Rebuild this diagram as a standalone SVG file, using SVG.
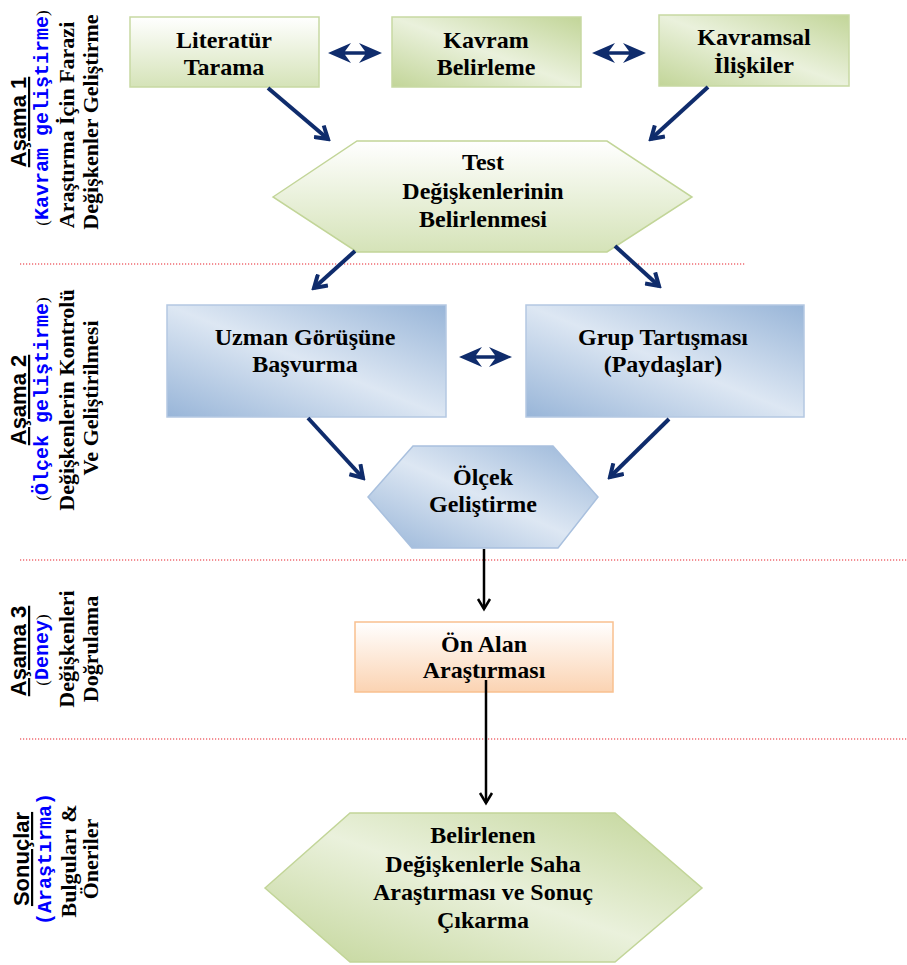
<svg xmlns="http://www.w3.org/2000/svg" width="907" height="965" viewBox="0 0 907 965">
<style>
.t{font-family:"Liberation Serif","Times New Roman",serif;font-weight:bold;font-size:24px;fill:#000;text-anchor:middle}
.lh{font-family:"Liberation Sans",Arial,sans-serif;font-weight:bold;font-size:22px;fill:#000;text-anchor:middle;text-decoration:underline}
.lm{font-family:"Liberation Mono","Courier New",monospace;font-weight:bold;font-size:20px;fill:#0000ff}
.lp{font-family:"Liberation Serif","Times New Roman",serif;font-size:17px;fill:#000}
.ls{font-family:"Liberation Serif","Times New Roman",serif;font-weight:bold;font-size:22px;fill:#000;text-anchor:middle}
.sep{stroke:#e8202a;stroke-width:1.2;stroke-dasharray:1.2 1.8;fill:none}
.nav{stroke:#0f2c6c;stroke-width:4;fill:none}
.blk{stroke:#000;stroke-width:2.5;fill:none}
.dbl{fill:#0f2c6c}
</style>
<defs>
<linearGradient id="gv" x1="0" y1="0" x2="0" y2="1"><stop offset="0" stop-color="#ffffff"/><stop offset="1" stop-color="#d5e3b8"/></linearGradient>
<linearGradient id="gd" x1="0" y1="1" x2="1" y2="0"><stop offset="0" stop-color="#c2d598"/><stop offset="0.5" stop-color="#eaf1dc"/><stop offset="1" stop-color="#c2d598"/></linearGradient>
<linearGradient id="bd" x1="0" y1="1" x2="1" y2="0"><stop offset="0" stop-color="#98b5d8"/><stop offset="0.5" stop-color="#dde7f3"/><stop offset="1" stop-color="#98b5d8"/></linearGradient>
<linearGradient id="ov" x1="0" y1="0" x2="0" y2="1"><stop offset="0" stop-color="#ffffff"/><stop offset="1" stop-color="#fbd3b2"/></linearGradient>
<marker id="an" markerUnits="userSpaceOnUse" viewBox="0 0 18 18" markerWidth="18" markerHeight="18" refX="15" refY="9" orient="auto">
<path d="M3,1.5 L15,9 L3,16.5" fill="none" stroke="#0f2c6c" stroke-width="4"/>
</marker>
<marker id="ab" markerUnits="userSpaceOnUse" viewBox="0 0 16 16" markerWidth="16" markerHeight="16" refX="13" refY="8" orient="auto">
<path d="M3,2 L13,8 L3,14" fill="none" stroke="#000" stroke-width="2.5"/>
</marker>
</defs>

<g id="separators">
<line class="sep" x1="20" y1="264" x2="745" y2="264"/>
<line class="sep" x1="20" y1="560" x2="907" y2="560"/>
<line class="sep" x1="20" y1="739" x2="907" y2="739"/>
</g>

<g id="label-asama1">
<text class="lh" transform="translate(26,122) rotate(-90)">Aşama 1</text>
<text transform="translate(48,118) rotate(-90)" text-anchor="middle"><tspan class="lp">(</tspan><tspan class="lm">Kavram geliştirme</tspan><tspan class="lp">)</tspan></text>
<text class="ls" transform="translate(74,125) rotate(-90)">Araştırma İçin Farazi</text>
<text class="ls" transform="translate(98,122) rotate(-90)">Değişkenler Geliştirme</text>
</g>

<g id="label-asama2">
<text class="lh" transform="translate(26,400) rotate(-90)">Aşama 2</text>
<text transform="translate(48,399) rotate(-90)" text-anchor="middle"><tspan class="lp">(</tspan><tspan class="lm">Ölçek geliştirme</tspan><tspan class="lp">)</tspan></text>
<text class="ls" transform="translate(74,400) rotate(-90)">Değişkenlerin Kontrolü</text>
<text class="ls" transform="translate(98,398) rotate(-90)">Ve Geliştirilmesi</text>
</g>

<g id="label-asama3">
<text class="lh" transform="translate(26,651) rotate(-90)">Aşama 3</text>
<text transform="translate(48,650) rotate(-90)" text-anchor="middle"><tspan class="lp">(</tspan><tspan class="lm">Deney</tspan><tspan class="lp">)</tspan></text>
<text class="ls" transform="translate(74,649) rotate(-90)">Değişkenleri</text>
<text class="ls" transform="translate(98,649) rotate(-90)">Doğrulama</text>
</g>

<g id="label-sonuclar">
<text class="lh" transform="translate(29,859) rotate(-90)">Sonuçlar</text>
<text class="lm" transform="translate(51,859) rotate(-90)" text-anchor="middle">(Araştırma)</text>
<text class="ls" transform="translate(76,861) rotate(-90)">Bulguları &amp;</text>
<text class="ls" transform="translate(98,859) rotate(-90)">Öneriler</text>
</g>

<g id="n-literatur">
<rect x="130" y="17" width="189" height="70" fill="url(#gv)" stroke="#c7d9a3" stroke-width="1.5"/>
<text class="t" x="224" y="48">Literatür</text>
<text class="t" x="224" y="75">Tarama</text>
</g>
<g id="n-kavram">
<rect x="392" y="17" width="189" height="70" fill="url(#gd)" stroke="#c7d9a3" stroke-width="1.5"/>
<text class="t" x="486" y="48">Kavram</text>
<text class="t" x="486" y="75">Belirleme</text>
</g>
<g id="n-kavramsal">
<rect x="659" y="15" width="190" height="71" fill="url(#gd)" stroke="#c7d9a3" stroke-width="1.5"/>
<text class="t" x="754" y="45">Kavramsal</text>
<text class="t" x="754" y="73">İlişkiler</text>
</g>
<g id="n-test">
<polygon points="273,197 357,141 607,141 692,197 607,252 357,252" fill="url(#gv)" stroke="#c2d598" stroke-width="1.5"/>
<text class="t" x="483" y="170">Test</text>
<text class="t" x="483" y="199">Değişkenlerinin</text>
<text class="t" x="483" y="227">Belirlenmesi</text>
</g>
<g id="n-uzman">
<rect x="167" y="305" width="279" height="112" fill="url(#bd)" stroke="#b4c8e2" stroke-width="1.5"/>
<text class="t" x="305" y="345">Uzman Görüşüne</text>
<text class="t" x="305" y="372">Başvurma</text>
</g>
<g id="n-grup">
<rect x="526" y="305" width="278" height="112" fill="url(#bd)" stroke="#b4c8e2" stroke-width="1.5"/>
<text class="t" x="663" y="345">Grup Tartışması</text>
<text class="t" x="663" y="372">(Paydaşlar)</text>
</g>
<g id="n-olcek">
<polygon points="368,497 413,446 553,446 598,497 558,548 412,548" fill="url(#bd)" stroke="#a9c0de" stroke-width="1.5"/>
<text class="t" x="483" y="485">Ölçek</text>
<text class="t" x="483" y="512">Geliştirme</text>
</g>
<g id="n-onalan">
<rect x="355" y="622" width="258" height="70" fill="url(#ov)" stroke="#f9c08f" stroke-width="1.5"/>
<text class="t" x="484" y="652">Ön Alan</text>
<text class="t" x="484" y="678">Araştırması</text>
</g>
<g id="n-sonuc">
<polygon points="265,888 350,813 615,813 702,888 615,962 350,962" fill="url(#gd)" stroke="#c2d598" stroke-width="1.5"/>
<text class="t" x="483" y="843">Belirlenen</text>
<text class="t" x="483" y="872">Değişkenlerle Saha</text>
<text class="t" x="483" y="900">Araştırması ve Sonuç</text>
<text class="t" x="483" y="928">Çıkarma</text>
</g>

<g id="connectors">
<line class="nav" x1="268" y1="88" x2="328" y2="139" marker-end="url(#an)"/>
<line class="nav" x1="708" y1="87" x2="651" y2="139" marker-end="url(#an)"/>
<line class="nav" x1="355" y1="251" x2="314" y2="288" marker-end="url(#an)"/>
<line class="nav" x1="615" y1="246" x2="659" y2="286" marker-end="url(#an)"/>
<line class="nav" x1="308" y1="418" x2="363" y2="478" marker-end="url(#an)"/>
<line class="nav" x1="669" y1="419" x2="610" y2="477" marker-end="url(#an)"/>
<path class="dbl" d="M328,53 L351,43 L345,51.2 L365,51.2 L359,43 L382,53 L359,63 L365,54.8 L345,54.8 L351,63 Z"/>
<path class="dbl" d="M592,53 L615,43 L609,51.2 L629,51.2 L623,43 L646,53 L623,63 L629,54.8 L609,54.8 L615,63 Z"/>
<path class="dbl" d="M459,357 L482,347 L476,355.2 L495,355.2 L489,347 L512,357 L489,367 L495,358.8 L476,358.8 L482,367 Z"/>
<line class="blk" x1="484" y1="549" x2="484" y2="609" marker-end="url(#ab)"/>
<line class="blk" x1="486" y1="680" x2="486" y2="803" marker-end="url(#ab)"/>
</g>
</svg>
